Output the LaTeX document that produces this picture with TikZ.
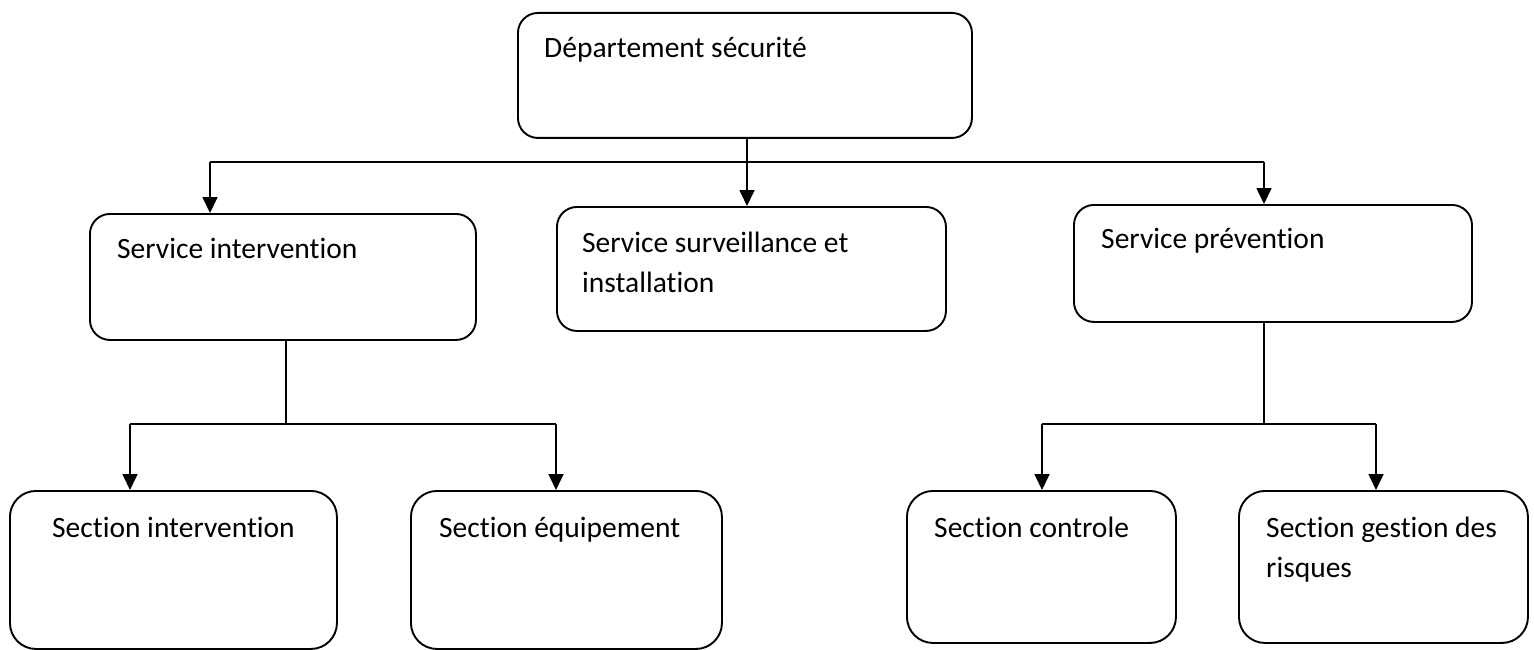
\documentclass[tikz,border=0pt]{standalone}
\usepackage{fontspec}
\setmainfont{Carlito}[Ligatures=NoCommon]
\usetikzlibrary{arrows.meta}
\begin{document}
\begin{tikzpicture}[x=1pt,y=-1pt,
  box/.style={draw=black,line width=1.9pt,rounded corners=20pt,anchor=north west,inner sep=0pt},
  lbl/.style={anchor=base west,inner sep=0pt,font=\fontsize{29.5}{40}\selectfont,align=left},
  conn/.style={draw=black,line width=1.7pt},
  arr/.style={conn,-{Triangle[width=15pt,length=16pt]}}]
\useasboundingbox (0,0) rectangle (1534,650);
% boxes
\node[box,minimum width=454pt,minimum height=125pt] (dep) at (517,12) {};
\node[box,minimum width=386pt,minimum height=126pt] (sint) at (89,213) {};
\node[box,minimum width=389pt,minimum height=124pt] (ssurv) at (556,206) {};
\node[box,minimum width=398pt,minimum height=117pt] (sprev) at (1073,204) {};
\node[box,minimum width=327pt,minimum height=158pt,rounded corners=26pt] (secint) at (9,490) {};
\node[box,minimum width=311pt,minimum height=158pt,rounded corners=26pt] (secequ) at (410,490) {};
\node[box,minimum width=269pt,minimum height=152pt,rounded corners=26pt] (secctl) at (906,490) {};
\node[box,minimum width=289pt,minimum height=152pt,rounded corners=26pt] (secges) at (1238,490) {};
% labels (multi-line labels are anchored at the baseline of their last line)
\node[lbl] (tdep) at (544,58) {Département sécurité};
\node[lbl] (tsint) at (117,258) {Service intervention};
\node[lbl] (tssurv) at (582,292) {Service surveillance et\\installation};
\node[lbl] (tsprev) at (1101,248) {Service prévention};
\node[lbl] (tsecint) at (52,537) {Section intervention};
\node[lbl] (tsecequ) at (439,537) {Section équipement};
\node[lbl] (tsecctl) at (934,537) {Section controle};
\node[lbl] (tsecges) at (1266,577) {Section gestion des\\risques};
% junction coordinates
\coordinate (j0) at (747,162);
\coordinate (bl) at (210,162);
\coordinate (br) at (1264,162);
\coordinate (j1) at (286,424);
\coordinate (l1) at (130,424);
\coordinate (l2) at (556,424);
\coordinate (j2) at (1264,424);
\coordinate (r1) at (1042,424);
\coordinate (r2) at (1376,424);
% top level connectors
\draw[conn] (j0 |- dep.south) -- (j0);
\draw[conn] (bl) -- (br);
\draw[arr] (bl) -- (bl |- sint.north);
\draw[arr] (j0) -- (j0 |- ssurv.north);
\draw[arr] (br) -- (br |- sprev.north);
% left subtree
\draw[conn] (j1 |- sint.south) -- (j1);
\draw[conn] (l1) -- (l2);
\draw[arr] (l1) -- (l1 |- secint.north);
\draw[arr] (l2) -- (l2 |- secequ.north);
% right subtree
\draw[conn] (j2 |- sprev.south) -- (j2);
\draw[conn] (r1) -- (r2);
\draw[arr] (r1) -- (r1 |- secctl.north);
\draw[arr] (r2) -- (r2 |- secges.north);
\end{tikzpicture}
\end{document}
